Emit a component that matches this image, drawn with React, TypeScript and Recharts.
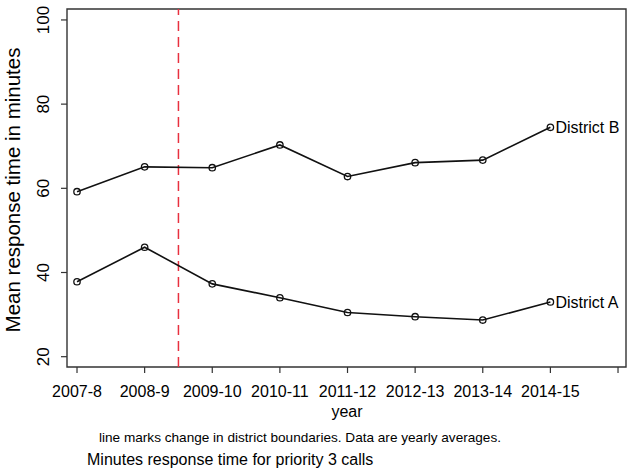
import { LineChart, Line, XAxis, YAxis, ReferenceLine, ReferenceArea, LabelList } from 'recharts';

const years = ['2007-8', '2008-9', '2009-10', '2010-11', '2011-12', '2012-13', '2013-14', '2014-15'];
const districtA = [37.8, 46.0, 37.3, 34.0, 30.5, 29.5, 28.7, 33.0];
const districtB = [59.2, 65.1, 64.9, 70.3, 62.8, 66.1, 66.7, 74.5];
const yTicks = [20, 40, 60, 80, 100];
const xTicks = [1, 2, 3, 4, 5, 6, 7, 8, 9];
const boundaryChange = 2.5; // between 2008-9 and 2009-10

const xDomain = [0.852, 9.118];
const yDomain = [17.55, 102.6];

const data = years.map((year, i) => ({ x: i + 1, year, a: districtA[i], b: districtB[i] }));

const FONT = '"Liberation Sans", Arial, sans-serif';

function YTick(props: any) {
  const { x, y, payload } = props;
  return (
    <text
      x={x - 9.5}
      y={y}
      transform={`rotate(-90, ${x - 9.5}, ${y})`}
      textAnchor="middle"
      fontSize={17}
      fontFamily={FONT}
      fill="#000"
    >
      {payload.value}
    </text>
  );
}

function XTick(props: any) {
  const { x, y, payload } = props;
  const label = years[payload.value - 1] ?? '';
  return (
    <text x={x} y={y + 22} textAnchor="middle" fontSize={16} fontFamily={FONT} fill="#000">
      {label}
    </text>
  );
}

function endLabel(name: string) {
  return (props: any) => {
    const { x, y, index } = props;
    if (index !== years.length - 1) return null;
    return (
      <text x={x + 5} y={y} dy="0.36em" fontSize={16} fontFamily={FONT} fill="#000">
        {name}
      </text>
    );
  };
}

const dot = { r: 3.2, stroke: '#111', strokeWidth: 1.3, fill: 'none' };

export default function App() {
  return (
    <div style={{ position: 'absolute', left: 0, top: 0, width: 632, height: 471, background: '#fff' }}>
      <LineChart width={632} height={471} data={data} margin={{ top: 9, right: 6, left: 0, bottom: 0 }}>
        <XAxis
          dataKey="x"
          type="number"
          domain={xDomain}
          ticks={xTicks}
          allowDataOverflow
          height={104}
          axisLine={false}
          tickSize={6}
          tickLine={{ stroke: '#333', strokeWidth: 1.2 }}
          tick={<XTick />}
          interval={0}
        />
        <YAxis
          type="number"
          domain={yDomain}
          ticks={yTicks}
          allowDataOverflow
          width={67}
          axisLine={false}
          tickSize={6}
          tickLine={{ stroke: '#333', strokeWidth: 1.2 }}
          tick={<YTick />}
          interval={0}
        />
        <ReferenceArea
          x1={xDomain[0]}
          x2={xDomain[1]}
          y1={yDomain[0]}
          y2={yDomain[1]}
          fill="none"
          fillOpacity={0}
          stroke="#333"
          strokeWidth={1.4}
        />
        <ReferenceLine x={boundaryChange} stroke="#e8303f" strokeWidth={1.5} strokeDasharray="10 6" />
        <Line
          dataKey="b"
          stroke="#111"
          strokeWidth={1.6}
          dot={dot}
          activeDot={false}
          isAnimationActive={false}
        >
          <LabelList dataKey="b" content={endLabel('District B')} />
        </Line>
        <Line
          dataKey="a"
          stroke="#111"
          strokeWidth={1.6}
          dot={dot}
          activeDot={false}
          isAnimationActive={false}
        >
          <LabelList dataKey="a" content={endLabel('District A')} />
        </Line>
      </LineChart>
      <svg
        width={632}
        height={471}
        style={{ position: 'absolute', left: 0, top: 0, pointerEvents: 'none' }}
        fontFamily={FONT}
      >
        <text x={19.5} y={190} transform="rotate(-90, 19.5, 190)" textAnchor="middle" fontSize={20.5} fill="#000">
          Mean response time in minutes
        </text>
        <text x={347} y={417} textAnchor="middle" fontSize={16} fill="#000">
          year
        </text>
        <text x={99} y={442} fontSize={13.6} fill="#000">
          line marks change in district boundaries. Data are yearly averages.
        </text>
        <text x={87} y={465} fontSize={16} fill="#000">
          Minutes response time for priority 3 calls
        </text>
      </svg>
    </div>
  );
}
